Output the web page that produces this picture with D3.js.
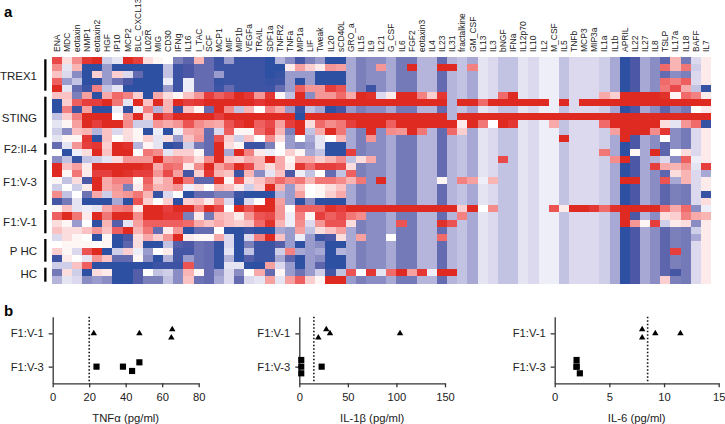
<!DOCTYPE html>
<html><head><meta charset="utf-8">
<script src="https://cdnjs.cloudflare.com/ajax/libs/d3/7.8.5/d3.min.js"></script>
<style>html,body{margin:0;padding:0;background:#fff}svg{display:block}text{font-family:"Liberation Sans",Arial,sans-serif;fill:#222}</style>
</head><body><svg id="c" width="725" height="424"></svg>
<script>
const cytokines = ["ENA","MDC","eotaxin","NMP1","eotaxin2","HGF","IP10","MCP2","BLC_CXCL13","IL02R","MIG","CD30","IFNg","IL16","I_TAC","SCF","MCP1","MIF","MIP1b","VEGFa","TRAIL","SDF1a","TNFR2","TNFa","MIP1a","LIF","Tweak","IL20","sCD40L","GRO_a","IL15","IL9","IL21","G_CSF","IL6","FGF2","eotaxin3","IL4","IL23","IL31","fractalkine","GM_CSF","IL13","IL3","bNGF","IFNa","IL12p70","IL10","IL2","M_CSF","IL5","TNFb","MCP3","MIP3a","IL1a","IL1b","APRIL","IL22","IL27","IL8","TSLP","IL17a","IL18","BAFF","IL7"];
const heatValues = [
[16,3,10,18,20,-4,-2,20,17,3,1,0,-10,-14,6,-13,-18,-8,-18,-18,-18,-20,-6,-9,-17,-10,-8,-20,-20,-7,-10,-9,-9,-7,-11,-11,-6,-6,-13,-6,-5,-7,-2,-3,-5,-5,-2,-3,-1,-1,-5,-3,-3,-3,-4,-7,-20,-16,-7,-9,-14,6,-11,-3,2],
[10,-2,6,-20,-20,-8,-20,-20,-20,-20,-20,-5,-18,-16,-13,-13,-18,-18,-18,-18,-18,-20,-20,2,8,4,2,9,8,-7,-10,-9,9,-7,-11,20,-6,-6,20,20,-5,11,-2,-3,-5,-5,-2,-3,-1,-1,-5,-3,-3,-3,-4,-7,-20,-16,-7,-9,13,6,12,-4,2],
[5,-3,-9,-20,4,-8,4,-3,-13,-20,-20,-5,-18,-16,-13,-13,-8,-18,-18,-18,-18,-20,-19,-8,-8,-8,-20,-20,-20,-7,-10,-9,-9,-7,-11,-11,-6,-6,-13,-6,-5,-7,-2,-3,-5,-5,-2,-3,-1,-1,-5,-3,-3,-3,-4,-7,-20,-16,-7,-9,-13,-9,-10,-3,2],
[14,-8,-5,-20,-20,-8,-12,-16,-20,-20,-20,-1,-18,-1,-13,-13,-19,-18,-18,-18,-18,-19,-18,-8,-20,-8,-20,-20,-20,-7,-10,-9,-9,-7,-11,-11,-6,-6,-13,-6,-5,-7,-2,-3,-5,-5,-2,-3,-1,-1,-5,-3,-3,-3,-4,-7,-20,-16,-7,-9,13,11,14,-3,2],
[20,-2,-13,-18,11,-5,-2,-20,-20,-20,-20,-8,-18,-1,-13,-13,-18,-13,-18,-18,-18,-18,-13,-8,14,9,9,17,15,-7,-10,-18,-9,-7,-11,-11,-6,-6,-13,-6,-5,-7,-2,-3,-5,-5,-2,-3,-1,-1,-5,-3,-3,-3,-4,-7,-20,-16,-7,-9,12,16,7,-5,-19],
[5,5,-10,8,-20,7,13,11,4,-20,7,3,1,5,9,17,14,16,20,18,9,18,1,-5,20,-9,9,9,13,7,20,19,-3,2,20,20,11,4,18,-6,-5,-7,-2,-3,13,20,-2,-3,-1,-1,-5,-3,-3,-3,7,4,20,20,20,20,19,1,13,11,2],
[-20,4,14,17,17,20,12,-2,20,5,20,6,20,17,18,20,20,20,20,20,18,20,20,20,20,20,20,20,20,20,20,20,20,20,20,20,20,20,20,-6,20,20,13,20,20,20,20,20,20,-1,20,-3,20,20,20,20,20,20,20,20,20,20,20,20,20],
[-20,11,-18,8,-20,-20,-1,-19,-1,11,-6,6,-18,5,1,-13,20,10,-5,6,0,11,7,-8,-18,-5,-7,-20,-17,-8,-10,-9,-9,-7,-11,-11,-6,-6,-13,-6,-5,-7,-2,-3,-5,-5,-2,-3,-1,-1,-5,-3,-3,-3,-4,-7,-20,-16,-7,-9,-14,-9,-11,0,2],
[-5,4,11,20,20,20,0,9,20,4,20,15,20,20,20,20,17,20,20,20,20,20,20,20,-20,20,20,20,20,20,20,20,20,20,20,20,20,20,20,-6,20,20,20,20,20,20,20,20,20,20,20,20,20,20,20,20,20,20,20,20,20,20,20,20,20],
[-2,1,8,20,17,20,20,10,-4,-4,9,7,9,15,10,8,7,15,18,20,14,16,8,17,20,3,13,10,12,17,20,20,20,14,20,20,20,20,20,20,2,20,12,0,20,18,-2,-3,-1,7,-5,-3,-3,-3,13,20,20,20,20,20,3,-2,9,13,-19],
[-4,-9,5,6,-6,5,-3,3,1,-20,-1,-20,-1,7,8,-13,-3,14,1,1,13,17,6,-10,20,-5,7,20,12,-7,-10,20,-9,10,9,20,12,-6,-13,13,4,-7,-2,-3,-5,-5,-2,-3,-1,-1,-5,-3,-3,-3,-4,8,20,20,20,10,18,-9,-11,-3,2],
[-2,1,1,18,-20,5,0,3,1,4,-2,3,-8,5,9,-13,15,4,-4,5,0,10,3,-8,0,-7,-2,0,6,-7,-10,9,-9,-7,-11,-11,-6,-6,-13,-6,-5,-7,-2,-3,-5,-5,-2,-3,-1,-1,20,-3,-3,-3,-4,-7,20,-16,-7,-9,0,-9,-11,-3,2],
[-13,-2,9,17,18,4,20,19,-6,1,-2,-20,-18,-4,-11,-13,20,3,1,-18,-18,-10,0,-8,-9,-8,-2,-20,-20,-7,-10,-9,-9,-7,-11,-11,-6,-6,-13,-6,-5,-7,-2,-3,-5,-5,-2,-3,-1,-1,-5,-3,-3,-3,-4,-7,-20,-16,-7,-9,-14,-9,-11,-3,2],
[0,-20,-1,3,20,5,20,20,0,12,10,-2,4,4,1,-13,20,-7,20,11,2,-1,0,4,1,-7,-5,-20,-20,17,-10,-9,-9,-7,-11,-11,-6,-6,-13,-6,-5,-7,-2,-3,-5,-5,-2,-3,-1,-1,-5,-3,-3,-3,12,-7,-20,1,-7,20,-14,0,3,-3,2],
[-9,-5,-19,-5,-4,-2,3,9,9,9,20,9,10,7,3,10,20,5,4,7,6,20,7,1,7,7,4,6,10,-5,3,7,-9,-7,-11,-11,-6,-6,-13,-6,-5,-7,-2,-3,16,-5,-2,-3,-1,-1,-5,-3,-3,-3,-4,10,20,-16,-7,-6,-3,-9,14,-1,2],
[20,5,8,2,20,20,20,20,20,19,7,13,12,2,10,20,8,12,20,16,6,3,7,2,18,13,17,17,16,3,-10,-9,-9,-7,-11,-11,-6,-6,-13,-6,-5,-7,-2,-3,-5,-5,-2,-3,-1,-1,-5,-3,-3,-3,-4,-7,-20,-16,-7,17,7,6,9,-2,17],
[20,1,12,2,17,17,20,19,17,17,9,16,8,-17,4,18,6,5,-18,6,-9,-2,5,-16,-1,-5,0,-13,-5,14,-10,-9,-9,-7,-11,-11,-6,-6,-13,-6,-5,-7,-2,-3,-5,-5,-2,-3,-1,-1,-5,-3,-3,-3,-4,-7,-20,-16,-7,-9,-14,3,6,-3,-7],
[1,-5,3,-16,20,7,11,11,1,14,4,7,20,12,-14,-14,19,1,15,3,5,9,13,10,12,6,12,12,10,6,12,-9,20,-7,-11,-11,-6,-6,1,-6,11,8,-1,6,-5,-5,-2,-3,-1,-1,-5,-3,-3,-3,-4,-7,20,20,-7,-9,15,-7,6,-3,2],
[-4,0,-4,2,20,7,9,-10,2,12,6,7,9,-1,3,0,6,5,2,-4,4,20,6,-8,5,0,1,3,5,-7,-10,-9,-9,-7,-11,-11,-6,-6,-13,-6,-5,-7,-2,-3,-5,-5,-2,-3,-1,-1,-5,-3,-3,-3,-4,-7,-20,-16,-7,-9,-14,-10,-11,-3,2],
[10,-5,0,-12,7,-4,8,9,12,6,-19,-3,0,-20,-13,-13,-10,-10,-18,-20,-20,-20,-6,-8,8,0,1,4,7,-7,-10,-9,-9,-7,-11,-11,-6,-6,-13,-6,-5,-7,-2,-3,-5,-5,-2,-3,-1,-1,-5,-3,-3,-3,-4,-7,-20,-16,-7,-9,-14,-10,-11,-3,-19],
[-17,-11,-2,-20,-20,-20,-7,-20,15,4,0,4,-20,4,5,2,9,-3,-20,-3,0,20,8,-8,-20,-9,-20,-20,-20,-7,-10,-9,-9,-7,-11,-11,-6,-6,-13,-6,-5,-7,-2,-3,-5,-5,-2,-3,-1,-1,-5,-3,-3,-3,-4,-7,-20,-16,-7,-9,-14,-10,-11,-3,3],
[1,5,-2,-1,-2,7,11,12,2,20,20,17,20,20,11,20,16,0,20,15,20,20,9,0,14,14,14,19,17,20,20,20,20,20,20,20,20,20,20,20,4,20,0,10,-5,-5,-2,-3,-1,15,2,20,20,18,13,19,20,20,20,20,13,7,13,-9,-1],
[14,20,12,2,20,12,20,20,10,20,20,18,18,-10,2,-11,6,5,2,9,15,16,9,-1,11,1,17,14,16,12,10,-9,-9,-7,-11,-11,-6,-6,-13,-6,11,-7,-2,-3,-5,-5,-2,-3,-1,-1,-5,-3,-3,-3,-4,-7,20,-16,-6,-9,3,4,11,7,6],
[3,1,-8,0,-20,6,-15,-2,8,14,14,14,14,13,7,5,7,5,4,5,13,19,6,-1,10,-3,9,15,15,3,-10,-9,-9,-7,15,-11,-6,-6,19,15,-5,-7,-2,-3,-5,-5,-2,-3,-1,-1,-5,-3,-3,-3,-4,-7,20,9,1,17,-4,2,3,-9,2],
[5,3,3,5,9,5,14,20,6,12,-13,2,9,-20,-13,-13,0,-20,-20,-18,-20,-20,-7,-8,8,-5,3,5,8,-7,-10,-9,-9,-7,-11,-11,-6,-6,-13,-6,-5,-7,-2,-3,-5,-5,-2,-3,-1,-1,-5,-3,-3,-3,-4,-7,-20,-16,-7,-9,-14,-10,-11,-4,2],
[-3,3,1,0,-20,1,-20,-16,3,7,4,9,20,2,1,1,7,-3,-20,-3,11,20,5,-8,-1,-8,-18,-16,3,-7,8,-9,-9,0,-11,-11,-6,-6,13,-6,-5,-7,-2,-3,-5,-5,-2,-3,-1,-1,-5,-3,-3,-3,-4,-7,-20,-16,-7,-9,-14,-10,-11,-7,2],
[0,1,1,1,0,1,-20,-14,3,-20,-20,-5,-15,-16,-12,-13,-19,-3,-20,-10,-18,-18,-15,-8,-20,-8,-9,-20,-20,-7,-10,-9,-9,-7,-11,-11,-6,-6,-13,-6,-5,-7,-2,-3,-5,-5,-2,-3,-1,-1,-5,-3,-3,-3,-4,-7,-20,-16,-7,-9,-14,-10,-11,-3,2],
[4,1,-3,15,20,-20,-4,4,-1,-8,0,2,-17,-17,-12,-13,-19,-2,-20,-5,-18,-18,-4,11,-7,-8,-7,-20,-6,-7,-10,-9,-9,-7,-11,-11,-6,-6,-13,-6,-5,-7,-2,-3,-5,-5,-2,-3,-1,-1,-5,-3,-3,-3,-4,-7,-20,-16,-7,-9,-14,17,-11,-3,2],
[-18,2,0,-2,9,5,-13,-13,1,-9,-20,-6,-17,-8,-12,-13,-19,-6,-20,-15,-18,-18,-7,-14,-20,-8,-9,-20,-20,-7,-10,-9,-9,-7,-11,-11,-6,-6,-13,-6,-5,-7,-2,-3,-5,-5,-2,-3,-1,-1,-5,-3,-3,-3,-4,-7,-20,-16,-7,-9,-14,-10,-11,-3,2],
[-4,-4,5,14,-20,-20,-20,-20,-20,-20,-18,-18,-18,15,-12,-13,-19,-2,-2,-20,-20,8,-3,-8,-20,-8,-14,-20,-20,-7,-10,-9,-9,-7,-11,-11,-6,-6,-13,-6,-5,-7,-2,-3,-5,-5,-2,-3,-1,-1,-5,-3,-3,-3,-4,-7,-20,-16,-7,-9,-14,-10,-11,-3,2],
[-11,3,-4,-20,3,2,-20,-20,-15,0,-5,-4,-9,6,1,-13,-8,-3,-9,0,7,-13,1,-8,-12,-8,-4,-17,-5,15,0,18,-2,13,20,8,18,-1,20,20,-5,-7,-2,-3,-5,-5,-2,-3,-1,-1,-5,-3,-3,-3,-4,-7,-20,-16,-7,-9,-14,-17,-11,-3,2],
[-6,-2,-3,-9,-8,-9,-20,-20,-15,-10,-10,-5,-9,5,-12,-13,-7,-3,-13,-3,-2,8,-2,8,14,4,1,20,20,-8,-10,-9,-9,-7,-11,-11,-6,-6,-13,-6,-5,-7,-2,-3,-5,-5,-2,-3,-1,-1,-5,-3,-3,-3,-4,-7,-20,-16,-7,-9,4,-10,-11,-3,2]
];
const groupLabels = ["TREX1","STING","F2:II-4","F1:V-3","F1:V-1","P HC","HC"];
const panelTitles = ["TNF\u03b1 (pg/ml)","IL-1\u03b2 (pg/ml)","IL-6 (pg/ml)"];
const panelTicks = [[0,20,40,60,80],[0,50,100,150],[0,5,10,15]];
const panelMax = [80,150,15];
const cutoffs = [20,15,8.5];
const rowLabels = ["F1:V-3","F1:V-1"];
const tnfV1 = [[22.5,2],[47.5,2],[65.5,2.12],[65,1.87]];
const tnfV3 = [[24,1],[38.5,1],[43.5,0.87],[47.5,1.13]];
const il1V1 = [[27.8,2.12],[31.6,2],[19.6,1.87],[103.7,2]];
const il1V3 = [[2,1.2],[2,1],[2,0.8],[23,1]];
const il6V1 = [[8,2.12],[8,1.87],[9.2,2],[11.5,2]];
const il6V3 = [[2,1.2],[2,1],[2,1],[2.3,0.8]];

// layout
const barTop = [59.3,96.7,143.3,160,210,239,267.7];
const barBottom = [90.7,137.3,154.7,205,233.3,261.7,281.7];
const labelCentre = [76,117.7,149.3,182,221.7,250.7,274];

const svg = d3.select("#c");
svg.append("rect").attr("width",725).attr("height",424).attr("fill","#fff");
const color = d3.scaleLinear()
  .domain([-20,-16,-13,-10,-7,-5,-3,-1,0,2,6,10,14,17,20])
  .range(["#2e50a2","#4c58a6","#656bb0","#7b80bb","#a8a8d4","#c2c2e2","#dcd9ee","#eeeef8","#ffffff","#fdeaea","#f9b4b4","#f48c8c","#ee5f5f","#e63e3c","#df2a22"]);
const x = d3.scaleBand().domain(d3.range(65)).range([51.5,711]);
const y = d3.scaleBand().domain(d3.range(32)).range([56.7,283.3]);
const heat = svg.append("g").attr("shape-rendering","crispEdges");
heatValues.forEach((row,r)=>{
  heat.selectAll(null).data(row).join("rect")
    .attr("x",(d,c)=>x(c)).attr("y",y(r))
    .attr("width",x.bandwidth()+0.3).attr("height",y.bandwidth()+0.3)
    .attr("fill",d=>color(d));
});
svg.append("g").selectAll("text").data(cytokines).join("text")
  .attr("transform",(d,i)=>`translate(${x(i)+x.bandwidth()/2+3},52) rotate(-90)`)
  .attr("font-size",8.5).text(d=>d);
svg.append("g").selectAll("rect").data(groupLabels).join("rect")
  .attr("x",44.2).attr("width",2.3)
  .attr("y",(d,i)=>barTop[i])
  .attr("height",(d,i)=>barBottom[i]-barTop[i])
  .attr("fill","#000");
svg.append("g").selectAll("text").data(groupLabels).join("text")
  .attr("x",37).attr("text-anchor","end").attr("dy","0.36em").attr("font-size",11.5)
  .attr("y",(d,i)=>labelCentre[i])
  .text(d=>d);
svg.append("text").attr("x",4).attr("y",16.7).attr("font-size",15).attr("font-weight","bold").style("fill","#000").text("a");
svg.append("text").attr("x",4).attr("y",315.5).attr("font-size",15).attr("font-weight","bold").style("fill","#000").text("b");

const panelLeft = [52.7,299.3,554.7], panelRight = [198.7,445,718.7];
const triangles = [tnfV1,il1V1,il6V1], squares = [tnfV3,il1V3,il6V3];
const yS = d3.scaleLinear().domain([0.5,2.5]).range([383.3,316.7]);
panelLeft.forEach((left,i)=>{
  const xS = d3.scaleLinear().domain([0,panelMax[i]]).range([left,panelRight[i]]);
  const g = svg.append("g");
  const ax = g.append("g").attr("transform","translate(0,383.3)")
    .call(d3.axisBottom(xS).tickValues(panelTicks[i]).tickSize(4).tickSizeOuter(0).tickPadding(6));
  const ay = g.append("g").attr("transform",`translate(${left},0)`)
    .call(d3.axisLeft(yS).tickValues([1,2]).tickSize(4).tickSizeOuter(0).tickPadding(5).tickFormat(d=>rowLabels[d-1]));
  [ax,ay].forEach(a=>{
    a.selectAll("path,line").attr("stroke","#333").attr("stroke-width",1.3);
    a.selectAll("text").attr("font-size",11.2).attr("font-family",'"Liberation Sans",Arial,sans-serif').style("fill","#222");
  });
  g.append("line").attr("x1",xS(cutoffs[i])).attr("x2",xS(cutoffs[i]))
    .attr("y1",yS(2.5)).attr("y2",yS(0.5))
    .attr("stroke","#111").attr("stroke-width",1.6).attr("stroke-dasharray","1.5 2");
  g.selectAll(".t").data(triangles[i]).join("path")
    .attr("d",d3.symbol(d3.symbolTriangle,18))
    .attr("transform",d=>`translate(${xS(d[0])},${yS(d[1])})`).attr("fill","#000");
  g.selectAll(".s").data(squares[i]).join("path")
    .attr("d",d3.symbol(d3.symbolSquare,38))
    .attr("transform",d=>`translate(${xS(d[0])},${yS(d[1])})`).attr("fill","#000");
  g.append("text").attr("x",(left+panelRight[i])/2).attr("y",421.5).attr("text-anchor","middle")
    .attr("font-size",11.3).text(panelTitles[i]);
});
</script></body></html>
